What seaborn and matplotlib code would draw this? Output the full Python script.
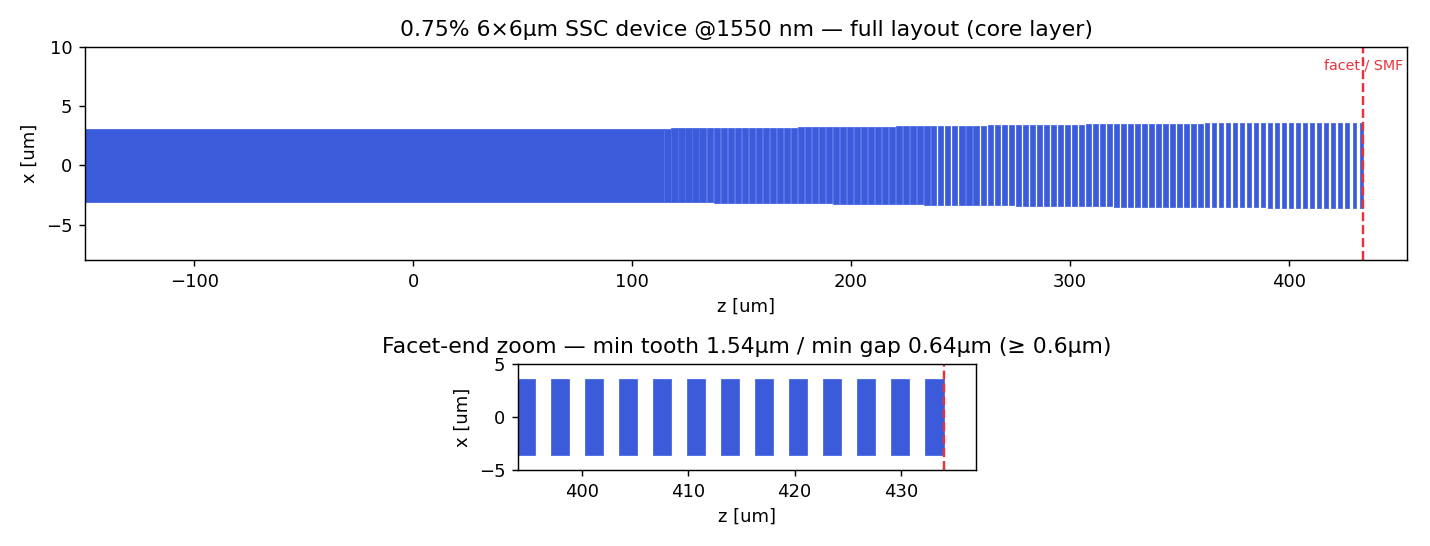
import numpy as np
import matplotlib
matplotlib.use("Agg")
import matplotlib.pyplot as plt
import seaborn as sns

TITLE_FULL = "0.75% 6×6µm SSC device @1550 nm — full layout (core layer)"
TITLE_ZOOM = "Facet-end zoom — min tooth 1.54µm / min gap 0.64µm (≥ 0.6µm)"
facet_z = 434.0
solid_start = -150.0
solid_stop = 114.70
solid_half = 3.07
tooth_start = [
    114.70,117.91,121.12,124.33,127.54,130.75,133.96,137.17,140.38,143.59,
    146.80,150.01,153.22,156.43,159.64,162.85,166.06,169.27,172.48,175.69,
    178.90,182.11,185.32,188.53,191.74,194.95,198.16,201.37,204.58,207.79,
    211.00,214.21,217.42,220.63,223.84,227.05,230.26,233.47,236.68,239.89,
    243.10,246.31,249.52,252.73,255.94,259.15,262.36,265.57,268.78,271.99,
    275.20,278.41,281.62,284.83,288.04,291.25,294.46,297.67,300.88,304.09,
    307.30,310.51,313.72,316.93,320.14,323.35,326.56,329.77,332.98,336.19,
    339.40,342.61,345.82,349.03,352.24,355.45,358.66,361.90,365.10,368.30,
    371.50,374.70,377.90,381.10,384.30,387.50,390.70,393.90,397.10,400.30,
    403.50,406.70,409.90,413.10,416.30,419.50,422.70,425.90,429.10,432.30,
]
tooth_width = [
    2.82,2.82,2.82,2.82,2.81,2.81,2.81,2.80,2.80,2.80,
    2.80,2.79,2.79,2.79,2.78,2.78,2.78,2.77,2.77,2.77,
    2.76,2.76,2.76,2.75,2.75,2.75,2.74,2.74,2.74,2.73,
    2.73,2.73,2.72,2.72,2.72,2.71,2.71,2.70,2.32,2.32,
    2.32,2.32,2.31,2.31,2.31,2.31,2.30,2.30,2.30,2.30,
    2.29,2.29,2.29,2.29,2.28,2.28,2.28,2.28,2.27,2.27,
    2.26,2.25,2.24,2.23,2.22,2.22,2.21,2.20,2.19,2.18,
    2.17,2.16,2.15,2.15,2.14,2.13,2.12,1.85,1.83,1.81,
    1.79,1.77,1.75,1.74,1.73,1.72,1.71,1.70,1.70,1.69,
    1.69,1.68,1.68,1.68,1.68,1.68,1.68,1.68,1.68,1.70,
]
top_levels = [3.07, 3.155, 3.24, 3.325, 3.41, 3.49, 3.58]
top_counts = [1, 18, 14, 13, 14, 17, 23]
bottom_levels = [-3.07, -3.155, -3.24, -3.325, -3.41, -3.49, -3.58]
bottom_counts = [7, 17, 13, 13, 14, 22, 14]

CORE = "#3b5bdb"
EDGE = "#4f6fe4"
RED = "#e8333a"

sns.set_theme(style="ticks", rc={
    "font.size": 10, "axes.labelsize": 10, "axes.titlesize": 12.15,
    "xtick.labelsize": 10, "ytick.labelsize": 10,
    "axes.edgecolor": "black", "axes.linewidth": 0.8,
    "xtick.color": "black", "ytick.color": "black", "text.color": "black",
    "axes.labelcolor": "black", "xtick.direction": "out", "ytick.direction": "out",
    "xtick.major.size": 3.5, "ytick.major.size": 3.5,
    "xtick.major.width": 0.8, "ytick.major.width": 0.8,
})
plt.rcParams["font.family"] = ["DejaVu Sans"]

W, H = 1430, 546
DPI = 130
fig = plt.figure(figsize=(W / DPI, H / DPI), dpi=DPI)
ax_full = fig.add_axes([85 / W, 1 - 260 / H, (1407 - 85) / W, 213 / H])
ax_zoom = fig.add_axes([518 / W, 1 - 470 / H, (975.5 - 518) / W, 106 / H])

tops = np.repeat(top_levels, top_counts)
bottoms = np.repeat(bottom_levels, bottom_counts)
starts = np.array(tooth_start)
widths = np.array(tooth_width)

for ax in (ax_full, ax_zoom):
    ax.bar(solid_start, 2 * solid_half, width=solid_stop - solid_start, bottom=-solid_half,
           align="edge", color=CORE, edgecolor=EDGE, linewidth=0.5)
    ax.bar(starts, tops - bottoms, width=widths, bottom=bottoms, align="edge",
           color=CORE, edgecolor=EDGE, linewidth=0.5)
    ax.axvline(facet_z, color=RED, linestyle="--", linewidth=1.35)
    ax.set_xlabel("z [um]")
    ax.set_ylabel("x [um]")
    sns.despine(ax=ax, top=False, right=False)

ax_full.set_xlim(-150, 454)
ax_full.set_ylim(-8, 10)
ax_full.set_title(TITLE_FULL, pad=6)
ax_full.text(facet_z, 8.4, "facet / SMF", color=RED, fontsize=7.9, ha="center", va="center")

ax_zoom.set_xlim(394, 437)
ax_zoom.set_ylim(-5, 5)
ax_zoom.set_xticks([400, 410, 420, 430])
ax_zoom.set_yticks([-5, 0, 5])
ax_zoom.set_title(TITLE_ZOOM, pad=6)

fig.savefig("out.png", dpi=DPI)
